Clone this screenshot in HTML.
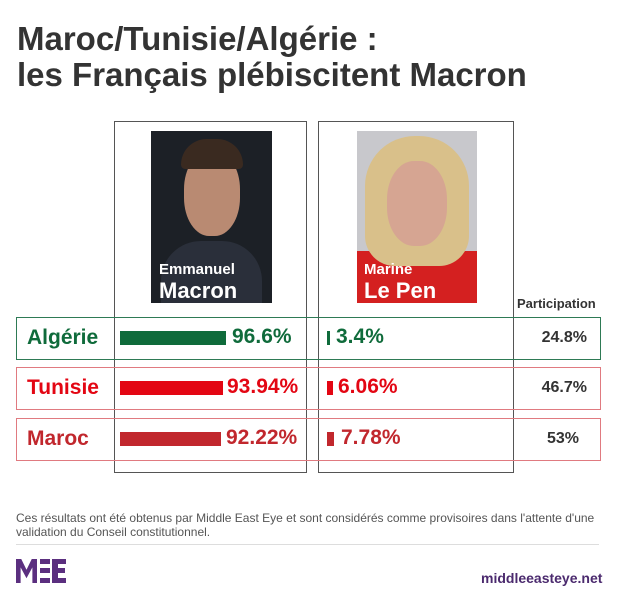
<!DOCTYPE html>
<html><head><meta charset="utf-8"><style>
body{margin:0;width:620px;height:597px;background:#fff;position:relative;overflow:hidden;font-family:"Liberation Sans","DejaVu Sans",sans-serif}
.a{position:absolute}
.t{font-weight:bold;color:#333;font-size:33px;left:17px;letter-spacing:0px}
.col{border:1px solid #555;top:121px;height:350px}
.row{left:16px;width:583px;height:41px;background:transparent}
.lbl{font-weight:bold;font-size:21px;left:10px;top:8px}
.bar{height:14px}
.pct{font-weight:bold;font-size:21px}
.par{font-weight:bold;font-size:16px;color:#333;right:33px;text-align:right}
</style></head><body>
<div class="a t" style="top:20px">Maroc/Tunisie/Algérie :</div>
<div class="a t" style="top:56px">les Français plébiscitent Macron</div>

<div class="a col" style="left:114px;width:191px"></div>
<div class="a col" style="left:318px;width:194px"></div>

<div class="a" style="left:151px;top:131px;width:121px;height:172px;background:#1c2026;overflow:hidden">
 <div class="a" style="left:10px;top:110px;width:101px;height:70px;background:#2a2f3a;border-radius:40px 40px 0 0"></div>
 <div class="a" style="left:33px;top:20px;width:56px;height:85px;background:#b98a72;border-radius:45%"></div>
 <div class="a" style="left:30px;top:8px;width:62px;height:30px;background:#3a2a20;border-radius:30px 30px 5px 5px"></div>
 <div class="a" style="left:8px;top:130px;color:#fff;font-weight:bold;font-size:15px">Emmanuel</div>
 <div class="a" style="left:8px;top:147px;color:#fff;font-weight:bold;font-size:22px">Macron</div>
</div>
<div class="a" style="left:357px;top:131px;width:120px;height:172px;background:#c8c8cc;overflow:hidden">
 <div class="a" style="left:0;top:120px;width:120px;height:60px;background:#d42020"></div>
 <div class="a" style="left:8px;top:5px;width:104px;height:130px;background:#d9c08a;border-radius:50px 50px 30px 30px"></div>
 <div class="a" style="left:30px;top:30px;width:60px;height:85px;background:#d6a592;border-radius:45%"></div>
 <div class="a" style="left:7px;top:130px;color:#fff;font-weight:bold;font-size:15px">Marine</div>
 <div class="a" style="left:7px;top:147px;color:#fff;font-weight:bold;font-size:22px">Le Pen</div>
</div>
<div class="a" style="left:517px;top:296px;font-weight:bold;font-size:13px;color:#333">Participation</div>

<div class="a row" style="top:317px;border:1px solid #2e7a55"><div class="a lbl" style="color:#0f6b3b">Algérie</div></div>
<div class="a row" style="top:367px;border:1px solid #e07a80"><div class="a lbl" style="color:#e30613">Tunisie</div></div>
<div class="a row" style="top:418px;border:1px solid #e07a80"><div class="a lbl" style="color:#c1272d">Maroc</div></div>

<div class="a bar" style="left:120px;top:331px;width:106px;background:#0f6b3b"></div>
<div class="a pct" style="left:232px;top:325px;color:#0f6b3b">96.6%</div>
<div class="a bar" style="left:327px;top:331px;width:3px;background:#0f6b3b"></div>
<div class="a pct" style="left:336px;top:325px;color:#0f6b3b">3.4%</div>
<div class="a par" style="top:329px">24.8%</div>

<div class="a bar" style="left:120px;top:381px;width:103px;background:#e30613"></div>
<div class="a pct" style="left:227px;top:375px;color:#e30613">93.94%</div>
<div class="a bar" style="left:327px;top:381px;width:6px;background:#e30613"></div>
<div class="a pct" style="left:338px;top:375px;color:#e30613">6.06%</div>
<div class="a par" style="top:379px">46.7%</div>

<div class="a bar" style="left:120px;top:432px;width:101px;background:#c1272d"></div>
<div class="a pct" style="left:226px;top:426px;color:#c1272d">92.22%</div>
<div class="a bar" style="left:327px;top:432px;width:7px;background:#c1272d"></div>
<div class="a pct" style="left:341px;top:426px;color:#c1272d">7.78%</div>
<div class="a par" style="top:430px;right:41px">53%</div>

<div class="a" style="left:16px;top:511px;width:595px;font-size:12px;line-height:14px;color:#555">Ces résultats ont été obtenus par Middle East Eye et sont considérés comme provisoires dans l'attente d'une validation du Conseil constitutionnel.</div>
<div class="a" style="left:16px;top:544px;width:583px;height:1px;background:#ddd"></div>
<!-- logo -->
<div class="a" style="left:16px;top:559px;width:21px;height:24px;background:#5b2f7f;clip-path:polygon(0 0,25% 0,50% 45%,75% 0,100% 0,100% 100%,78% 100%,78% 35%,50% 80%,22% 35%,22% 100%,0 100%)"></div>
<div class="a" style="left:40px;top:559px;width:10px;height:5px;background:#5b2f7f"></div>
<div class="a" style="left:40px;top:568px;width:10px;height:5px;background:#5b2f7f"></div>
<div class="a" style="left:40px;top:578px;width:10px;height:5px;background:#5b2f7f"></div>
<div class="a" style="left:52px;top:559px;width:6px;height:24px;background:#5b2f7f"></div>
<div class="a" style="left:52px;top:559px;width:14px;height:5px;background:#5b2f7f"></div>
<div class="a" style="left:52px;top:568px;width:13px;height:5px;background:#5b2f7f"></div>
<div class="a" style="left:52px;top:578px;width:14px;height:5px;background:#5b2f7f"></div>
<div class="a" style="left:481px;top:570px;font-weight:bold;font-size:14px;color:#4b2a6e">middleeasteye.net</div>
</body></html>
